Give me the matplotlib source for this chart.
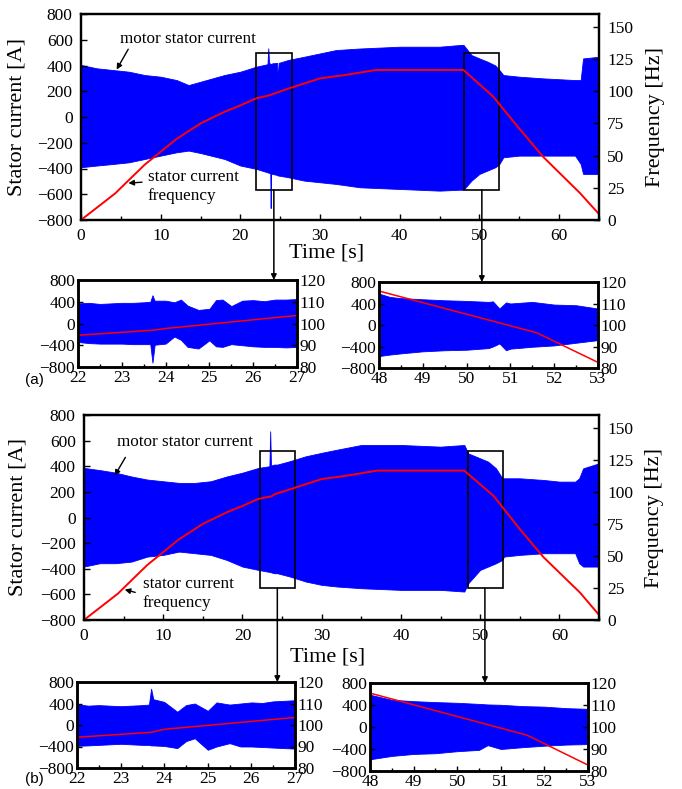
import matplotlib
matplotlib.use("Agg")
import matplotlib.pyplot as plt
from matplotlib.patches import Rectangle
from matplotlib.transforms import blended_transform_factory

plt.rcParams['font.family'] = ['Liberation Serif', 'DejaVu Serif']
plt.rcParams['xtick.direction'] = 'in'
plt.rcParams['ytick.direction'] = 'in'

BLUE = '#0000ff'
RED = '#ff0000'

# ---------------- panel (a) main: current envelope + frequency ----------------
a_t = [0, 2, 4, 6, 8, 10, 12, 13.5, 15, 18, 20, 22, 23.4, 23.5, 23.6, 23.75, 23.8, 23.85, 24, 24.6,
       24.7, 24.8, 26, 28, 30, 32, 35, 40, 45, 47.5, 48, 49, 50, 51, 52, 52.5, 53, 55, 58, 62, 62.7,
       63, 65]
a_up = [404, 378, 365, 352, 326, 313, 287, 248, 274, 326, 352, 391, 410, 534, 420, 415, 412, 410, 417, 420,
        287, 420, 443, 468, 494, 520, 532, 546, 546, 559, 560, 481, 455, 430, 400, 365, 326, 313, 300, 287, 287,
        455, 468]
a_lo = [-390, -377, -365, -352, -326, -300, -274, -261, -280, -326, -377, -403, -430, -432, -435, -436, -707, -440, -442, -450,
        -455, -455, -468, -494, -507, -520, -546, -559, -572, -565, -565, -494, -442, -416, -390, -365, -313, -300, -300, -300, -365,
        -442, -442]
a_ft = [0, 4.3, 6, 8, 10, 12, 15, 18, 20, 22, 23.7, 24, 26, 28, 30, 33, 37, 48, 51.7, 55, 58, 62.6, 65]
a_f = [0, 20.7, 31, 43, 53, 63, 75, 84, 89, 94.5, 96.9, 97.7, 102, 106, 110, 112.5, 116.5, 116.5, 96, 71, 49, 21, 4.6]

# ---------------- panel (a) zoom 22-27 s ----------------
a1_t = [22, 22.25, 22.5, 22.75, 23, 23.25, 23.5, 23.65, 23.7, 23.75, 24, 24.2, 24.35, 24.5, 24.75, 25,
        25.15, 25.3, 25.5, 25.75, 26, 26.25, 26.5, 26.75, 27]
a1_up = [370, 380, 360, 370, 380, 380, 390, 400, 520, 420, 420, 390, 440, 330, 250, 270,
         430, 440, 320, 420, 430, 410, 440, 440, 450]
a1_lo = [-340, -360, -370, -370, -370, -380, -380, -380, -720, -390, -370, -240, -300, -430, -460, -310,
         -420, -430, -380, -400, -420, -430, -430, -440, -430]
a1_ft = [22, 23.7, 24, 27]
a1_f = [94.6, 96.9, 97.7, 103.7]

# ---------------- panel (a) zoom 48-53 s ----------------
a2_t = [48, 48.25, 48.5, 49, 49.5, 50, 50.5, 50.6, 50.75, 50.9, 51, 51.5, 52, 52.5, 53]
a2_up = [584, 522, 500, 479, 460, 448, 430, 440, 306, 420, 400, 430, 380, 368, 306]
a2_lo = [-578, -550, -528, -490, -470, -460, -430, -400, -343, -470, -440, -405, -380, -330, -281]
a2_ft = [48, 51.6, 53]
a2_f = [115.8, 96.4, 82.6]

# ---------------- panel (b) main ----------------
b_t = [0, 2, 4, 6, 8, 10, 12, 14, 16, 18, 20, 22, 23.4, 23.5, 23.6, 24, 24.3, 24.35, 24.4, 26, 28, 30,
       32, 35, 40, 45, 48, 48.5, 50, 51, 52, 52.8, 53, 55, 58, 60, 62, 62.5, 63, 65]
b_up = [387, 370, 350, 320, 296, 283, 270, 270, 283, 320, 350, 387, 400, 673, 405, 413, 413, 413, 413, 440, 478, 505,
        530, 566, 566, 553, 566, 500, 462, 436, 384, 306, 306, 306, 293, 280, 280, 306, 384, 423]
b_lo = [-383, -357, -357, -344, -305, -292, -266, -279, -292, -331, -383, -409, -425, -425, -428, -435, -435, -330, -435, -461, -500, -526,
        -539, -552, -565, -565, -578, -513, -409, -383, -357, -331, -305, -292, -279, -279, -279, -357, -383, -383]
b_ft = [0, 4.3, 6, 8, 10, 12, 15, 18, 20, 22, 23.7, 24, 26, 28, 30, 33, 37, 48, 51.7, 55, 58, 62.6, 65]
b_f = [0, 20.7, 31, 43, 53, 63, 75, 84, 89, 94.5, 96.6, 98, 102, 106, 110, 112.5, 116.6, 116.6, 96.8, 71, 49, 21.4, 4]

# ---------------- panel (b) zoom 22-27 s ----------------
b1_t = [22, 22.25, 22.5, 22.75, 23, 23.25, 23.5, 23.65, 23.7, 23.75, 24, 24.3, 24.5, 24.7, 25, 25.2,
        25.5, 25.75, 26, 26.25, 26.5, 26.75, 27]
b1_up = [390, 360, 370, 360, 350, 360, 370, 380, 676, 480, 430, 246, 370, 400, 264, 420,
         380, 400, 420, 410, 440, 450, 461]
b1_lo = [-387, -380, -370, -360, -350, -360, -370, -370, -380, -380, -390, -430, -300, -246, -461, -400,
         -338, -400, -400, -410, -420, -430, -440]
b1_ft = [22, 23.7, 24, 27]
b1_f = [94.3, 96.6, 98, 103.5]

# ---------------- panel (b) zoom 48-53 s ----------------
b2_t = [48, 48.5, 49, 49.5, 50, 50.5, 50.7, 51, 51.5, 52, 52.5, 53]
b2_up = [587, 495, 470, 453, 440, 420, 410, 404, 380, 370, 343, 330]
b2_lo = [-587, -526, -490, -477, -440, -416, -330, -400, -367, -340, -320, -310]
b2_ft = [48, 51.6, 53]
b2_f = [115.4, 96.3, 82.7]

fig = plt.figure(figsize=(6.82, 7.89), dpi=100)
W, H = 682.0, 789.0


def px_axes(x0, y0, x1, y1):
    return fig.add_axes([x0 / W, 1 - y1 / H, (x1 - x0) / W, (y1 - y0) / H])


def style(ax, lw=1.6):
    for s in ax.spines.values():
        s.set_linewidth(lw)


def main_panel(ax, t, up, lo, ft, f, boxes, txt1, arr1, txt2, arr2):
    ax.fill_between(t, lo, up, color=BLUE, lw=0.6, ec=BLUE)
    ax.set_xlim(0, 65)
    ax.set_ylim(-800, 800)
    ax.set_yticks(range(-800, 801, 200))
    ax.set_xticks(range(0, 61, 10))
    ax.set_xticks(range(0, 66, 5), minor=True)
    ax.tick_params(labelsize=12.5, length=4, width=1, pad=6)
    ax.tick_params(which='minor', length=3, width=1)
    ax.set_ylabel('Stator current [A]', fontsize=16)
    ax.set_xlabel('Time [s]', fontsize=16)
    ax2 = ax.twinx()
    ax2.plot(ft, f, color=RED, lw=1.4)
    ax2.set_ylim(0, 160)
    ax2.set_yticks(range(0, 151, 25))
    ax2.tick_params(labelsize=12.5, length=4, width=1, pad=6)
    ax2.set_ylabel('Frequency [Hz]', fontsize=16)
    style(ax)
    style(ax2)
    for (x0, y0, w, h) in boxes:
        ax2.add_patch(Rectangle((x0, y0), w, h, fill=False, ec='black', lw=1.2,
                                transform=ax.transData))
    ax2.text(txt1[0], txt1[1], 'motor stator current', fontsize=12.3, va='center',
             transform=ax.transData)
    ax2.annotate('', xy=arr1[1], xytext=arr1[0], xycoords=ax.transData, textcoords=ax.transData,
                 arrowprops=dict(arrowstyle='-|>', color='black', lw=1, mutation_scale=8))
    ax2.text(txt2[0], txt2[1], 'stator current\nfrequency', fontsize=12.3, va='top',
             linespacing=1.3, transform=ax.transData)
    ax2.annotate('', xy=arr2[1], xytext=arr2[0], xycoords=ax.transData, textcoords=ax.transData,
                 arrowprops=dict(arrowstyle='-|>', color='black', lw=1, mutation_scale=8))
    return ax2


def zoom_panel(ax, t, up, lo, ft, f, x0):
    ax.fill_between(t, lo, up, color=BLUE, lw=0.6, ec=BLUE)
    ax.set_xlim(x0, x0 + 5)
    ax.set_ylim(-800, 800)
    ax.set_yticks(range(-800, 801, 400))
    ax.set_xticks(range(x0, x0 + 6))
    ax.set_xticks([x0 + 0.5 * i for i in range(11)], minor=True)
    ax.tick_params(labelsize=12.5, length=3.5, width=1, pad=2)
    ax.tick_params(which='minor', length=2.5, width=1)
    ax2 = ax.twinx()
    ax2.plot(ft, f, color=RED, lw=1.1)
    ax2.set_ylim(80, 120)
    ax2.set_yticks(range(80, 121, 10))
    ax2.tick_params(labelsize=12.5, length=3.5, width=1, pad=2)
    style(ax, 1.8)
    style(ax2, 1.8)
    return ax2


def link(ax, ax2, inset, x, ybot):
    tr = blended_transform_factory(ax.transData, inset.transAxes)
    ax2.annotate('', xy=(x, 1.0), xycoords=tr, xytext=(x, ybot), textcoords=ax.transData,
                 arrowprops=dict(arrowstyle='-|>', color='black', lw=1.1, mutation_scale=8,
                                 shrinkA=0, shrinkB=0), annotation_clip=False)


# panel (a)
axa = px_axes(81, 14, 599, 220)
axa2 = main_panel(axa, a_t, a_up, a_lo, a_ft, a_f,
                  [(22, -565, 4.5, 1065), (48, -565, 4.45, 1065)],
                  (4.9, 606), ((6.1, 545), (4.3, 350)),
                  (8.4, -400), ((8.0, -505), (5.6, -515)))
axa.yaxis.set_label_coords(-0.105, 0.5)
axa.xaxis.set_label_coords(0.475, -0.115)
axa2.yaxis.set_label_coords(1.09, 0.5)

axa1 = px_axes(78, 280, 297, 367)
zoom_panel(axa1, a1_t, a1_up, a1_lo, a1_ft, a1_f, 22)
axa_2 = px_axes(379, 282, 598, 368)
zoom_panel(axa_2, a2_t, a2_up, a2_lo, a2_ft, a2_f, 48)
link(axa, axa2, axa1, 24.2, -565)
link(axa, axa2, axa_2, 50.3, -565)

# panel (b)
axb = px_axes(84, 415, 599, 620)
axb2 = main_panel(axb, b_t, b_up, b_lo, b_ft, b_f,
                  [(22.2, -550, 4.4, 1070), (48.5, -550, 4.4, 1070)],
                  (4.2, 589), ((5.4, 488), (3.7, 308)),
                  (7.4, -455), ((6.8, -590), (4.8, -557)))
axb.yaxis.set_label_coords(-0.11, 0.5)
axb.xaxis.set_label_coords(0.472, -0.135)
axb2.yaxis.set_label_coords(1.09, 0.5)

axb1 = px_axes(77, 682, 295, 768)
zoom_panel(axb1, b1_t, b1_up, b1_lo, b1_ft, b1_f, 22)
axb_2 = px_axes(370, 683, 588, 771)
zoom_panel(axb_2, b2_t, b2_up, b2_lo, b2_ft, b2_f, 48)
link(axb, axb2, axb1, 24.4, -550)
link(axb, axb2, axb_2, 50.6, -550)

fig.text(25 / W, 1 - 380 / H, '(a)', fontsize=11, family='Liberation Sans', va='center')
fig.text(25 / W, 1 - 779 / H, '(b)', fontsize=11, family='Liberation Sans', va='center')

fig.savefig('out.png', dpi=100)
